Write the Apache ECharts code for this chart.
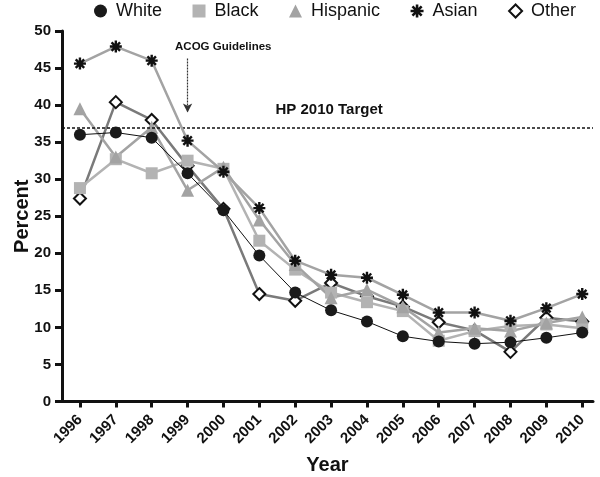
<!DOCTYPE html>
<html>
<head>
<meta charset="utf-8">
<script src="https://cdn.jsdelivr.net/npm/echarts@6/dist/echarts.min.js"></script>
<style>html,body{margin:0;padding:0;background:#fff}#c{width:600px;height:477px}</style>
</head>
<body>
<div id="c"></div>
<script>
const years = [1996,1997,1998,1999,2000,2001,2002,2003,2004,2005,2006,2007,2008,2009,2010];
const white    = [36.0,36.3,35.6,30.8,25.8,19.7,14.7,12.3,10.8,8.8,8.1,7.8,8.0,8.6,9.3];
const black    = [28.8,32.7,30.8,32.5,31.4,21.7,17.8,14.7,13.4,12.2,8.2,9.5,10.2,10.4,9.9];
const hispanic = [39.5,33.0,37.0,28.5,31.6,24.5,18.5,14.0,15.1,12.8,9.3,9.9,9.5,10.6,11.4];
const asian    = [45.6,47.9,46.0,35.2,31.0,26.1,19.0,17.1,16.7,14.4,12.0,12.0,10.9,12.6,14.5];
const other    = [27.4,40.4,38.0,31.8,26.0,14.5,13.6,16.0,14.2,12.8,10.7,9.6,6.7,11.3,10.8];
const yTicks = [0,5,10,15,20,25,30,35,40,45,50];
const target = 37;
const acogYear = 1999;

const FONT = 'Liberation Sans, Arial, Helvetica, sans-serif';
const pts = arr => years.map((y,i)=>[y,arr[i]]);
const asterisk = 'path://M1,-5L1,5L-1,5L-1,-5Z M-5,-1L5,-1L5,1L-5,1Z M-2.83,-4.24L4.24,2.83L2.83,4.24L-4.24,-2.83Z M-4.24,2.83L2.83,-4.24L4.24,-2.83L-2.83,4.24Z';

const chart = echarts.init(document.getElementById('c'), null, {renderer:'canvas'});
chart.setOption({
  animation:false,
  backgroundColor:'#fff',
  textStyle:{fontFamily:FONT},
  legend:{
    data:[
      {name:'White',icon:'circle'},
      {name:'Black',icon:'rect'},
      {name:'Hispanic',icon:'triangle'},
      {name:'Asian',icon:asterisk},
      {name:'Other',icon:'diamond'}
    ],
    top:-3, left:89,
    itemGap:30.5, itemWidth:13, itemHeight:13,
    textStyle:{fontSize:18,color:'#111',fontFamily:FONT,padding:[0,0,0,4]}
  },
  grid:{left:62,right:7,top:31,bottom:75.5,outerBoundsMode:'none',containLabel:false},
  xAxis:{
    type:'value', min:1995.5, max:2010.3,
    name:'Year', nameLocation:'middle', nameGap:54, nameMoveOverlap:false,
    nameTextStyle:{fontSize:20,fontWeight:'bold',color:'#111',fontFamily:FONT},
    axisLine:{show:true,lineStyle:{color:'#111',width:3}},
    axisTick:{show:true,length:6,lineStyle:{color:'#111',width:3},customValues:years},
    axisLabel:{rotate:45,fontSize:15,fontWeight:'bold',color:'#111',margin:16,customValues:years,formatter:v=>String(v),fontFamily:FONT},
    splitLine:{show:false}
  },
  yAxis:{
    type:'value', min:0, max:50, interval:5,
    name:'Percent', nameLocation:'middle', nameGap:30, nameMoveOverlap:false,
    nameTextStyle:{fontSize:20,fontWeight:'bold',color:'#111',fontFamily:FONT},
    axisLine:{show:true,lineStyle:{color:'#111',width:3}},
    axisTick:{show:true,length:7,lineStyle:{color:'#111',width:3}},
    axisLabel:{fontSize:15,fontWeight:'bold',color:'#111',margin:11,customValues:yTicks,fontFamily:FONT},
    splitLine:{show:false}
  },
  series:[
    {name:'Other',type:'line',data:pts(other),symbol:'diamond',symbolSize:12,z:3,
     lineStyle:{color:'#7a7a7a',width:2.5},itemStyle:{color:'#fff',borderColor:'#111',borderWidth:2},
     markLine:{silent:true,symbol:['none','none'],label:{show:false},
       lineStyle:{color:'#111',type:[3,2],width:1.5},
       data:[{yAxis:target}]}},
    {name:'Black',type:'line',data:pts(black),symbol:'rect',symbolSize:12,z:4,
     lineStyle:{color:'#b3b3b3',width:2.5},itemStyle:{color:'#b3b3b3'}},
    {name:'Hispanic',type:'line',data:pts(hispanic),symbol:'triangle',symbolSize:13,z:4,
     lineStyle:{color:'#a3a3a3',width:2.5},itemStyle:{color:'#a3a3a3'}},
    {name:'White',type:'line',data:pts(white),symbol:'circle',symbolSize:12,z:5,
     lineStyle:{color:'#111',width:1},itemStyle:{color:'#1a1a1a'}},
    {name:'Asian',type:'line',data:pts(asian),symbol:asterisk,symbolSize:12,z:6,
     lineStyle:{color:'#a3a3a3',width:2.5},itemStyle:{color:'#111'},
     markLine:{silent:true,symbol:['none','arrow'],symbolSize:[7,9],label:{show:false},
       lineStyle:{color:'#333',type:[2,1],width:1.2},
       data:[[{coord:[acogYear,46.3]},{coord:[acogYear,39.0]}]]},
     markPoint:{silent:true,symbol:'circle',symbolSize:0,
       data:[
         {coord:[1998.65,47.8],label:{show:true,position:'right',distance:0,formatter:'ACOG Guidelines',fontSize:11.5,fontWeight:'bold',color:'#111',fontFamily:FONT}},
         {coord:[2001.45,39.4],label:{show:true,position:'right',distance:0,formatter:'HP 2010 Target',fontSize:15,fontWeight:'bold',color:'#111',fontFamily:FONT}}
       ]}}
  ]
});
</script>
</body>
</html>
